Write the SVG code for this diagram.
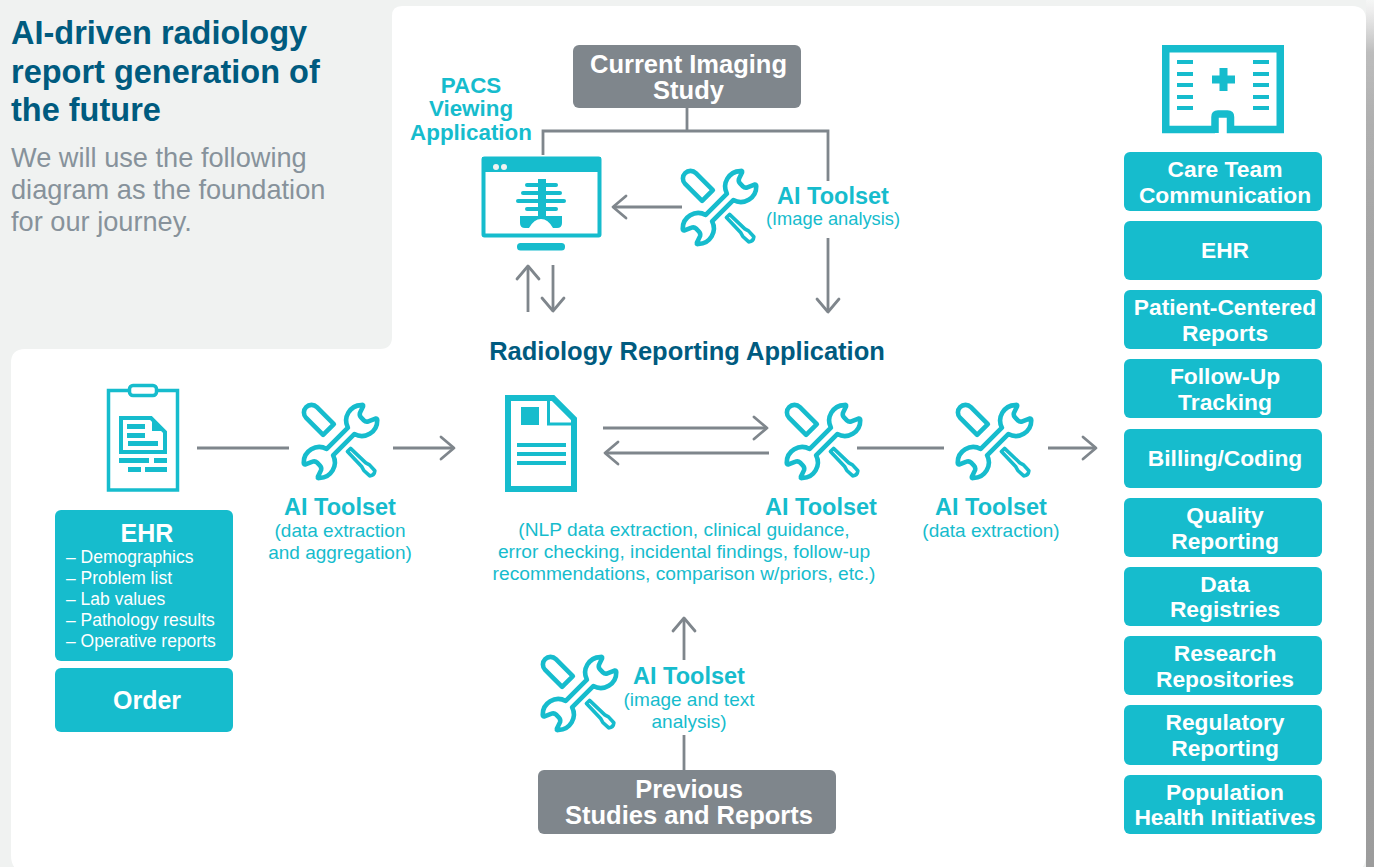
<svg xmlns="http://www.w3.org/2000/svg" xmlns:xlink="http://www.w3.org/1999/xlink" width="1374" height="867" viewBox="0 0 1374 867">
<style>
text{font-family:"Liberation Sans",Arial,sans-serif}
.c{text-anchor:middle}
.b{font-weight:bold}
.wt{fill:#fff;font-weight:bold;text-anchor:middle;font-size:22.8px}
.gt{fill:#fff;font-weight:bold;text-anchor:middle;font-size:25.5px}
.tl{fill:#16bccd;font-weight:bold;text-anchor:middle;font-size:23.5px}
.ts{fill:#16bccd;text-anchor:middle;font-size:19px}
.nl{fill:#16bccd;text-anchor:middle;font-size:19.2px}
.li{fill:#fff;font-size:17.5px}
.box{fill:#16bccd}
.gbox{fill:#7f868c}
.ln{fill:none;stroke:#7f868c;stroke-width:2.8}
.ic{fill:none;stroke:#16bccd}
.f{fill:#16bccd}
</style>
<defs>
<marker id="ah" markerUnits="userSpaceOnUse" markerWidth="30" markerHeight="30" refX="15" refY="15" orient="auto" overflow="visible">
<path d="M2,4 L15,15 L2,26" fill="none" stroke="#7f868c" stroke-width="2.8" stroke-linecap="round" stroke-linejoin="round"/>
</marker>
<linearGradient id="edge" x1="0" y1="0" x2="0" y2="1">
<stop offset="0" stop-color="#f0f2f1"/><stop offset="0.012" stop-color="#e6e6e6"/><stop offset="0.06" stop-color="#a8a8a8"/><stop offset="1" stop-color="#9c9c9c"/>
</linearGradient>
<linearGradient id="edgeh" x1="0" y1="0" x2="0" y2="1">
<stop offset="0" stop-color="#fff" stop-opacity="0.35"/><stop offset="0.5" stop-color="#fff" stop-opacity="0.1"/><stop offset="1" stop-color="#fff" stop-opacity="0"/>
</linearGradient>
<g id="tool">
<g transform="translate(39.5 39.5) rotate(-45)" fill="none" stroke="#16bccd" stroke-width="4.6" stroke-linejoin="round" stroke-linecap="round">
<path d="M-15,-4.5 L15,-4.5 A15.5,15.5 0 0 1 40.5,-11 Q42.5,-10 41,-9 L34,-6.5 Q31.5,-5 31.5,-2.5 L31.5,1.5 Q31.5,4.5 34,5.5 L41,8.500 Q42.500,9.500 41,11 A15.500,15.500 0 0 1 15,4.500 L-15,4.500 A15.500,15.500 0 0 1 -40.500,11 Q-42.500,10 -41,9 L-34,6.500 Q-31.500,5 -31.500,2.500 L-31.500,-1.500 Q-31.500,-4.500 -34,-5.500 L-41,-8.500 Q-42.500,-9.500 -41,-11 A15.500,15.500 0 0 1 -15,-4.500 Z"/>
<path d="M-7.600,-16 L-7.600,-40 A7.600,7.600 0 0 1 7.600,-40 L7.600,-16 Z" transform="translate(0 -1)"/>
<path d="M-2.200,12 L2.200,12 L2.800,33 L4,37 L3.600,45 Q0,48 -3.600,45 L-4,37 L-2.800,33 Z" stroke-width="3.600"/>
</g>
</g>
</defs>

<rect width="1374" height="867" fill="#f0f2f1"/>
<rect x="1366" y="0" width="8" height="867" fill="url(#edge)"/>
<rect x="1366" y="0" width="8" height="240" fill="url(#edgeh)"/>
<path d="M392,16 Q392,6 402,6 H1352 Q1366,6 1366,20 V855 Q1366,873 1348,873 H29 Q11,873 11,855 V363 Q11,349 25,349 H380 Q392,349 392,337 Z" fill="#fff"/>

<g id="title">
<text x="11" y="44" class="b" font-size="32.500" fill="#005b7f">AI-driven radiology</text>
<text x="11" y="83" class="b" font-size="32.500" fill="#005b7f">report generation of</text>
<text x="11" y="121" class="b" font-size="32.500" fill="#005b7f">the future</text>
<text x="11" y="167" font-size="27.200" fill="#87929b">We will use the following</text>
<text x="11" y="199" font-size="27.200" fill="#87929b">diagram as the foundation</text>
<text x="11" y="231" font-size="27.200" fill="#87929b">for our journey.</text>
</g>

<g id="connectors">
<path class="ln" d="M687,108 V131"/>
<path class="ln" d="M543,155 V131 H828 V181"/>
<path class="ln" d="M828,238 V312" marker-end="url(#ah)"/>
<path class="ln" d="M682,207 H613" marker-end="url(#ah)"/>
<path class="ln" d="M528,312 V266" marker-end="url(#ah)"/>
<path class="ln" d="M553,265 V311" marker-end="url(#ah)"/>
<path class="ln" d="M197,448 H289"/>
<path class="ln" d="M393,448 H454" marker-end="url(#ah)"/>
<path class="ln" d="M603,428 H767" marker-end="url(#ah)"/>
<path class="ln" d="M769,453 H605" marker-end="url(#ah)"/>
<path class="ln" d="M857,448 H944"/>
<path class="ln" d="M1048,448 H1096" marker-end="url(#ah)"/>
<path class="ln" d="M684,660 V618" marker-end="url(#ah)"/>
<path class="ln" d="M684,735 V770"/>
</g>

<g id="current-study">
<rect class="gbox" x="573" y="45" width="228" height="63" rx="6"/>
<text class="gt" x="688.500" y="73">Current Imaging</text>
<text class="gt" x="688.500" y="99">Study</text>
</g>

<g id="pacs">
<text class="c b" x="471" y="93" font-size="22.400" fill="#16bccd">PACS</text>
<text class="c b" x="471" y="116" font-size="22.400" fill="#16bccd">Viewing</text>
<text class="c b" x="471" y="140" font-size="22.400" fill="#16bccd">Application</text>
<rect class="ic" x="483.500" y="158.500" width="116" height="77" stroke-width="4" rx="1"/>
<rect class="f" x="482" y="157" width="119" height="15"/>
<circle cx="496" cy="167" r="3" fill="#f0f2f1"/>
<circle cx="504" cy="167" r="3" fill="#f0f2f1"/>
<rect class="f" x="538" y="179" width="8" height="38"/>
<rect class="f" x="525" y="183" width="33" height="4" rx="2"/>
<rect class="f" x="521" y="191" width="41" height="4" rx="2"/>
<rect class="f" x="516" y="199" width="50" height="4" rx="2"/>
<rect class="f" x="525" y="207" width="33" height="4" rx="2"/>
<path class="f" d="M520,216 H562 V223 Q562,228 557,228 H553 Q548,219 541,219 Q534,219 529,228 H525 Q520,228 520,223 Z"/>
<rect class="f" x="517" y="243" width="48" height="7.500" rx="3.500"/>
</g>

<g id="tool-image">
<use xlink:href="#tool" href="#tool" x="680" y="168"/>
<text class="tl" x="833" y="204">AI Toolset</text>
<text class="ts" x="833" y="225" style="font-size:18.300px">(Image analysis)</text>
</g>

<g id="reporting-app">
<text class="c b" x="687" y="360" font-size="25.500" fill="#005b7f">Radiology Reporting Application</text>
</g>

<g id="clipboard">
<rect class="ic" x="108.500" y="390.500" width="69" height="99.500" stroke-width="3.500"/>
<rect x="129.500" y="385.500" width="27" height="10" rx="3.500" fill="#fff" stroke="#16bccd" stroke-width="3.500"/>
<path class="ic" stroke-width="4" d="M121,418 H151 L165,432 V452 H121 Z"/>
<path class="f" d="M152,420 V431 H163 Z"/>
<rect class="f" x="127" y="424" width="18" height="5"/>
<rect class="f" x="127" y="433" width="18" height="5"/>
<rect class="f" x="128" y="441" width="30" height="5"/>
<rect class="f" x="119" y="458" width="30" height="5"/>
<rect class="f" x="154" y="458" width="13" height="5"/>
<rect class="f" x="128" y="467" width="13" height="5"/>
<rect class="f" x="145" y="467" width="22" height="5"/>
</g>

<g id="ehr">
<rect class="box" x="55" y="510" width="178" height="151" rx="6"/>
<text class="c b" x="147" y="542" font-size="25" fill="#fff">EHR</text>
<text class="li" x="66" y="563">– Demographics</text>
<text class="li" x="66" y="584">– Problem list</text>
<text class="li" x="66" y="605">– Lab values</text>
<text class="li" x="66" y="626">– Pathology results</text>
<text class="li" x="66" y="647">– Operative reports</text>
</g>
<g id="order">
<rect class="box" x="55" y="668" width="178" height="64" rx="6"/>
<text class="c b" x="147" y="709" font-size="25" fill="#fff">Order</text>
</g>

<g id="tool-aggregation">
<use xlink:href="#tool" href="#tool" x="301" y="402"/>
<text class="tl" x="340" y="515">AI Toolset</text>
<text class="ts" x="340" y="537">(data extraction</text>
<text class="ts" x="340" y="559">and aggregation)</text>
</g>

<g id="report-doc">
<path class="ic" stroke-width="6" d="M508,398 H553 L574,419 V489 H508 Z"/>
<path class="ic" stroke-width="3" d="M548.500,399 V424 H573"/>
<rect class="f" x="521" y="407" width="18" height="18"/>
<rect class="f" x="517" y="443" width="49" height="4"/>
<rect class="f" x="517" y="452" width="49" height="4"/>
<rect class="f" x="517" y="461" width="49" height="4"/>
</g>

<g id="tool-nlp">
<use xlink:href="#tool" href="#tool" x="784" y="402"/>
<text class="tl" x="821" y="515">AI Toolset</text>
<text class="nl" x="684" y="536">(NLP data extraction, clinical guidance,</text>
<text class="nl" x="684" y="558">error checking, incidental findings, follow-up</text>
<text class="nl" x="684" y="580">recommendations, comparison w/priors, etc.)</text>
</g>

<g id="tool-extraction">
<use xlink:href="#tool" href="#tool" x="955" y="402"/>
<text class="tl" x="991" y="515">AI Toolset</text>
<text class="ts" x="991" y="537">(data extraction)</text>
</g>

<g id="tool-prior">
<use xlink:href="#tool" href="#tool" x="540" y="654"/>
<text class="tl" x="689" y="684">AI Toolset</text>
<text class="ts" x="689" y="706">(image and text</text>
<text class="ts" x="689" y="728">analysis)</text>
</g>

<g id="previous-studies">
<rect class="gbox" x="538" y="770" width="298" height="64" rx="6"/>
<text class="gt" x="689" y="798">Previous</text>
<text class="gt" x="689" y="824">Studies and Reports</text>
</g>

<g id="hospital">
<path class="ic" stroke-width="7.500" d="M1215,133 V117 Q1215,114 1218,114 H1227.500 Q1230.500,114 1230.500,117 V129.500 H1280.250 V48.750 H1165.750 V129.500 H1215"/>
<rect class="f" x="1177" y="60" width="16" height="4"/><rect class="f" x="1253" y="60" width="16" height="4"/>
<rect class="f" x="1177" y="72" width="16" height="4"/><rect class="f" x="1253" y="72" width="16" height="4"/>
<rect class="f" x="1177" y="83" width="16" height="4"/><rect class="f" x="1253" y="83" width="16" height="4"/>
<rect class="f" x="1177" y="95" width="16" height="4"/><rect class="f" x="1253" y="95" width="16" height="4"/>
<rect class="f" x="1177" y="106" width="16" height="4"/><rect class="f" x="1253" y="106" width="16" height="4"/>
<path class="f" d="M1219.500,68 H1227.500 V75.500 H1235 V83.500 H1227.500 V91 H1219.500 V83.500 H1212 V75.500 H1219.500 Z"/>
</g>

<g id="care-team"><rect class="box" x="1124" y="152" width="198" height="59" rx="6"/><text class="wt" x="1225" y="176.500">Care Team</text><text class="wt" x="1225" y="202.500">Communication</text></g>
<g id="ehr-out"><rect class="box" x="1124" y="221" width="198" height="59" rx="6"/><text class="wt" x="1225" y="258">EHR</text></g>
<g id="patient-reports"><rect class="box" x="1124" y="290" width="198" height="59" rx="6"/><text class="wt" x="1225" y="315">Patient-Centered</text><text class="wt" x="1225" y="341">Reports</text></g>
<g id="follow-up"><rect class="box" x="1124" y="359" width="198" height="59" rx="6"/><text class="wt" x="1225" y="384">Follow-Up</text><text class="wt" x="1225" y="410">Tracking</text></g>
<g id="billing"><rect class="box" x="1124" y="429" width="198" height="59" rx="6"/><text class="wt" x="1225" y="466">Billing/Coding</text></g>
<g id="quality"><rect class="box" x="1124" y="498" width="198" height="59" rx="6"/><text class="wt" x="1225" y="523">Quality</text><text class="wt" x="1225" y="548.500">Reporting</text></g>
<g id="registries"><rect class="box" x="1124" y="567" width="198" height="59" rx="6"/><text class="wt" x="1225" y="592">Data</text><text class="wt" x="1225" y="617">Registries</text></g>
<g id="research"><rect class="box" x="1124" y="636" width="198" height="59" rx="6"/><text class="wt" x="1225" y="661">Research</text><text class="wt" x="1225" y="687">Repositories</text></g>
<g id="regulatory"><rect class="box" x="1124" y="705" width="198" height="60" rx="6"/><text class="wt" x="1225" y="730">Regulatory</text><text class="wt" x="1225" y="756">Reporting</text></g>
<g id="population"><rect class="box" x="1124" y="775" width="198" height="59" rx="6"/><text class="wt" x="1225" y="800">Population</text><text class="wt" x="1225" y="825">Health Initiatives</text></g>
</svg>
